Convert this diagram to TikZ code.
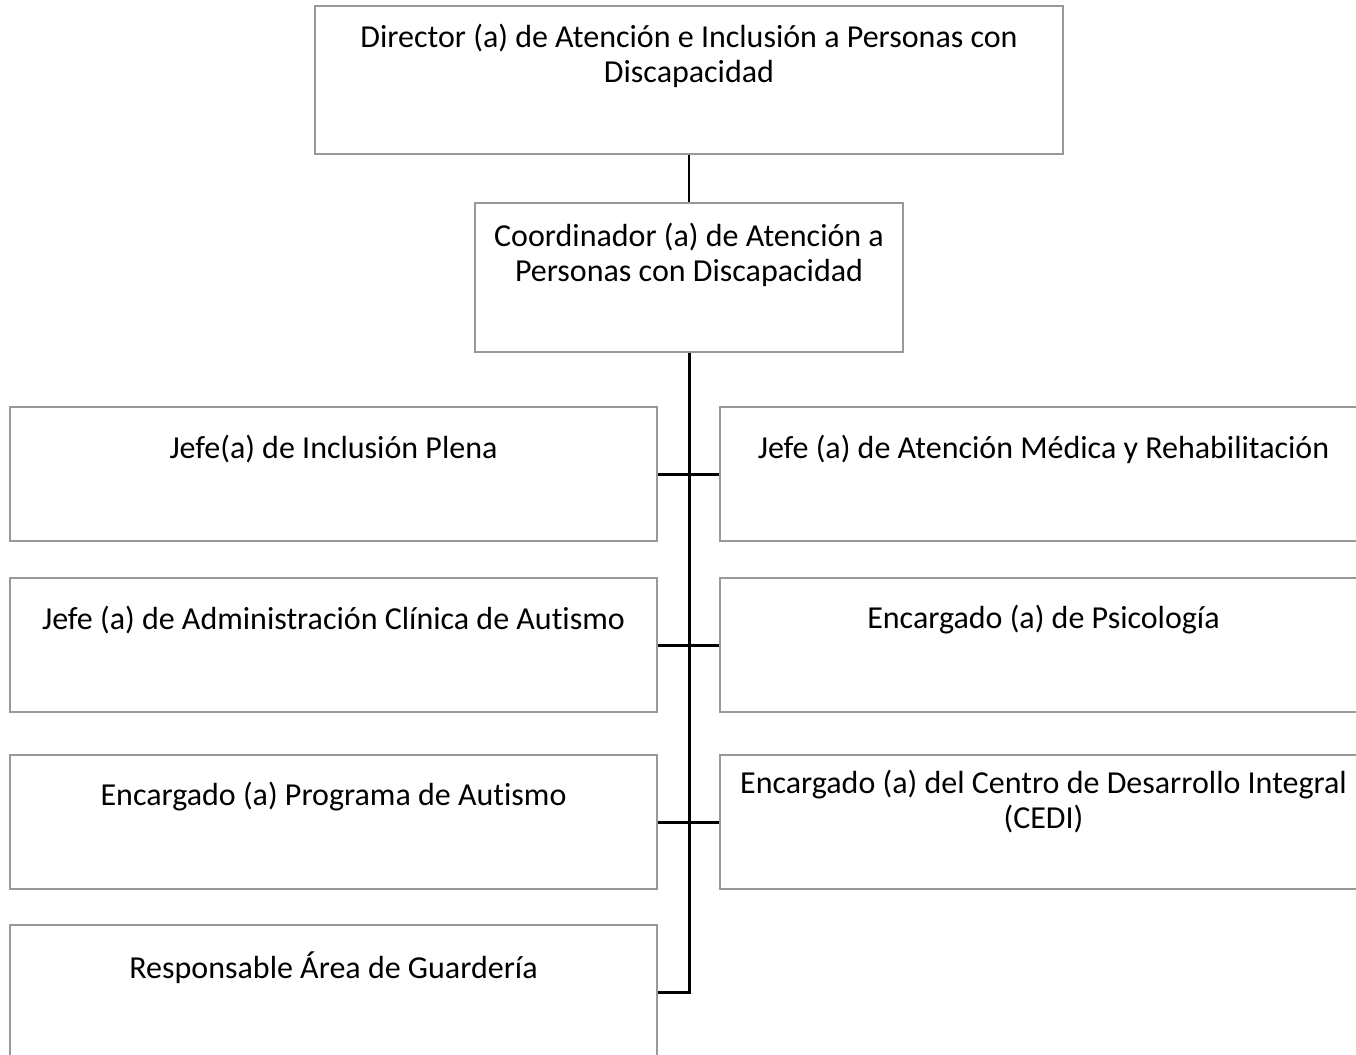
\documentclass[tikz,border=0pt]{standalone}
\usepackage{fontspec}
\setmainfont[Ligatures={NoCommon}]{Carlito}
\begin{document}
\begin{tikzpicture}[x=1pt,y=-1pt,
  box/.style={draw=black!40, line width=1.3pt, fill=white, minimum width=647pt, minimum height=134pt, inner sep=0pt},
  txt/.style={font=\fontsize{32}{35}\selectfont, align=center, inner sep=0pt},
  conn/.style={draw=black, line width=3pt},
  thin/.style={draw=black, line width=2pt}]
\useasboundingbox (0,0) rectangle (1356,1054);
\clip (0,0) rectangle (1356,1054);
\fill[white] (0,0) rectangle (1356,1054);
% boxes
\node[box, minimum width=748pt, minimum height=148pt] (dir) at (689,80) {};
\node[box, minimum width=428pt, minimum height=149pt] (coo) at (689,277.5) {};
\node[box] (l1) at (333.5,474) {};
\node[box] (l2) at (333.5,645) {};
\node[box] (l3) at (333.5,822) {};
\node[box] (l4) at (333.5,992) {};
\node[box] (r1) at (1043.5,474) {};
\node[box] (r2) at (1043.5,645) {};
\node[box] (r3) at (1043.5,822) {};
% texts
\node[txt] (tdir) at (689,56) {Director (a) de Atención e Inclusión a Personas con\\Discapacidad};
\node[txt] (tcoo) at (689,255) {Coordinador (a) de Atención a\\Personas con Discapacidad};
\node[txt] (tl1) at (333.5,449) {Jefe(a) de Inclusión Plena};
\node[txt] (tl2) at (333.5,620) {Jefe (a) de Administración Clínica de Autismo};
\node[txt] (tl3) at (333.5,797) {Encargado (a) Programa de Autismo};
\node[txt] (tl4) at (333.5,968) {Responsable Área de Guardería};
\node[txt] (tr1) at (1043.5,449) {Jefe (a) de Atención Médica y Rehabilitación};
\node[txt] (tr2) at (1043.5,620) {Encargado (a) de Psicología};
\node[txt] (tr3) at (1043.5,802) {Encargado (a) del Centro de Desarrollo Integral\\(CEDI)};
% connectors
\draw[thin] (dir.south) -- (coo.north);
\coordinate (bend) at (coo.south |- l4.east);
\draw[conn, line join=miter] (coo.south) -- (bend) -- (l4.east);
\draw[conn] (l1.east) -- (r1.west);
\draw[conn] (l2.east) -- (r2.west);
\draw[conn] (l3.east) -- (r3.west);
\end{tikzpicture}
\end{document}
